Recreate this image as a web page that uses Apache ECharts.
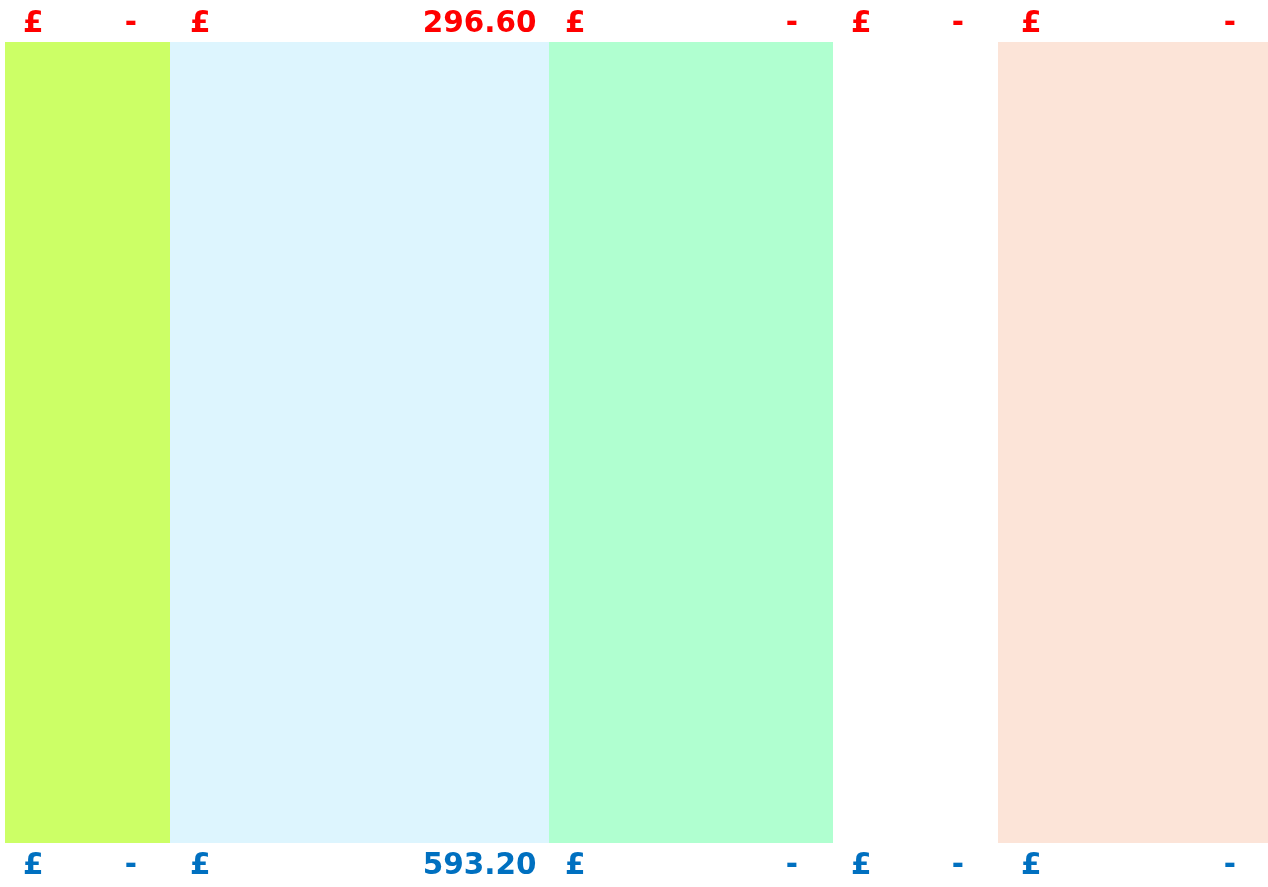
<!DOCTYPE html>
<html>
<head>
<meta charset="utf-8">
<script src="https://cdn.jsdelivr.net/npm/echarts@6/dist/echarts.min.js"></script>
<style>
html,body{margin:0;padding:0;background:#fff;}
#chart{width:1268px;height:887px;}
</style>
</head>
<body>
<div id="chart"></div>
<script>
// Data
var columns = ['A', 'B', 'C', 'D', 'E'];
var topValues = [0, 296.60, 0, 0, 0];
var bottomValues = [0, 593.20, 0, 0, 0];

// Layout / style (not data)
var colWidths = [165, 379, 284, 165, 270];
var poundOffsets = [19, 21, 17, 19, 24];
var dashOffsets = [34, 13, 36, 35, 33];
var colColors = ['#ccff66', '#ddf5fe', '#b0ffd0', '#ffffff', '#fce4d8'];
var topColor = '#ff0000';
var bottomColor = '#0070c0';
var FONT = 'bold 29.5px "DejaVu Sans"';

var starts = [];
var acc = 0;
for (var i = 0; i < colWidths.length; i++) { starts.push(acc); acc += colWidths[i]; }
var total = acc;

var seriesData = columns.map(function (c, i) {
  return [starts[i], starts[i] + colWidths[i], topValues[i], bottomValues[i], i];
});

function fmt(v) { return v === 0 ? '-' : v.toFixed(2); }

function renderItem(params, api) {
  var x0 = api.value(0), x1 = api.value(1);
  var tv = api.value(2), bv = api.value(3), idx = api.value(4);
  var p0 = api.coord([x0, 1]);
  var p1 = api.coord([x1, 0]);
  var left = p0[0], right = p1[0], top = p0[1], bottom = p1[1];
  var children = [{
    type: 'rect',
    shape: { x: left, y: top, width: right - left, height: bottom - top },
    style: { fill: colColors[idx] }
  }];
  function addLabels(v, y, color) {
    children.push({
      type: 'text',
      style: { text: '£', x: left + poundOffsets[idx] - 1, y: y, font: FONT, fill: color, textAlign: 'left', textVerticalAlign: 'middle' }
    });
    var isDash = v === 0;
    children.push({
      type: 'text',
      style: { text: fmt(v), x: right - (isDash ? dashOffsets[idx] - 1 : 12.5), y: y, font: FONT, fill: color, textAlign: 'right', textVerticalAlign: 'middle' }
    });
  }
  addLabels(tv, top - 18, topColor);
  addLabels(bv, bottom + 23, bottomColor);
  return { type: 'group', children: children };
}

var chart = echarts.init(document.getElementById('chart'));
chart.setOption({
  animation: false,
  backgroundColor: '#ffffff',
  grid: { left: 5, right: 0, top: 42, bottom: 44 },
  xAxis: { type: 'value', min: 0, max: total, show: false },
  yAxis: { type: 'value', min: 0, max: 1, show: false },
  series: [{
    type: 'custom',
    renderItem: renderItem,
    clip: false,
    encode: { x: [0, 1], y: 2 },
    data: seriesData
  }]
});
</script>
</body>
</html>
